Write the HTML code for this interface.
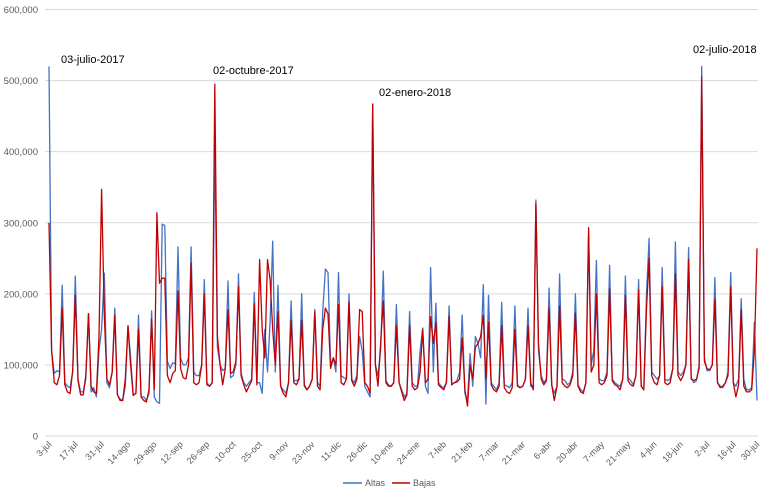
<!DOCTYPE html>
<html><head><meta charset="utf-8"><style>
body{margin:0;background:#fff;}
svg text{font-family:"Liberation Sans",sans-serif;}
</style></head><body>
<svg id="chart" width="768" height="495" viewBox="0 0 768 495" xmlns="http://www.w3.org/2000/svg">
<g id="grid"></g>
<g id="ylab"></g>
<g id="xlab"></g>
<g id="series"></g>
<g font-size="11" fill="#000">
<text x="61" y="63">03-julio-2017</text>
<text x="213" y="74">02-octubre-2017</text>
<text x="379" y="96">02-enero-2018</text>
<text x="693" y="53">02-julio-2018</text>
</g>
<g font-size="9" fill="#595959">
<line x1="343" y1="483" x2="362" y2="483" stroke="#4472C4" stroke-width="1.5"/>
<text x="365" y="486">Altas</text>
<line x1="392" y1="483" x2="410" y2="483" stroke="#C00000" stroke-width="1.5"/>
<text x="413" y="486">Bajas</text>
</g>
</svg>
<script>
const altas=[520,120,88,92,90,212,75,70,68,90,225,80,62,62,80,172,62,68,55,120,150,229,75,68,90,180,58,52,50,70,155,110,58,60,170,55,55,50,60,176,55,48,46,298,296,105,95,103,102,266,110,100,100,110,266,90,85,85,100,220,75,70,75,415,125,100,92,95,218,82,85,100,228,88,75,70,75,80,202,75,75,60,150,90,160,274,90,212,70,65,60,75,190,78,78,80,200,70,65,70,80,178,75,70,175,235,230,100,110,90,230,85,82,80,200,80,75,85,140,120,70,62,55,467,100,85,120,232,78,72,70,75,185,75,65,55,60,175,75,70,70,120,152,70,60,237,90,187,75,70,68,75,183,72,75,78,90,170,60,50,116,70,140,130,110,213,45,198,75,70,65,75,188,72,70,68,75,183,72,68,70,80,180,70,68,332,120,85,75,80,208,72,60,70,228,80,78,72,75,90,200,72,65,62,75,281,100,120,247,80,78,78,90,240,80,75,72,70,80,225,82,78,72,85,220,70,65,200,278,90,85,80,85,237,80,78,80,95,273,90,85,90,100,265,82,75,78,100,520,110,92,92,100,223,75,70,68,75,90,230,75,70,80,193,80,65,65,68,160,50];
const bajas=[300,120,75,72,85,180,72,62,60,92,198,78,58,58,85,172,70,62,60,140,347,170,80,72,90,170,58,50,50,80,155,100,57,60,150,55,50,48,65,164,65,314,215,222,222,85,75,88,92,204,95,82,80,100,243,75,72,75,100,200,72,70,75,495,140,100,72,95,178,88,90,105,210,85,72,62,70,78,186,72,248,150,110,248,220,150,100,175,70,60,55,75,163,75,72,80,163,72,65,70,80,175,70,65,150,180,172,95,110,100,185,75,72,80,188,78,70,80,178,175,75,70,60,467,100,70,130,190,75,70,70,75,155,75,62,50,58,155,70,65,68,90,150,75,80,168,130,160,72,68,65,75,168,72,75,76,80,138,65,42,100,80,125,130,140,170,80,160,72,65,62,70,155,68,62,60,68,150,70,68,70,80,155,75,65,327,130,80,72,78,180,72,50,70,183,75,70,68,72,85,173,70,62,60,75,293,90,100,200,75,72,75,85,207,78,72,70,65,80,198,78,72,70,85,205,70,65,180,250,85,75,72,85,210,75,72,75,95,228,85,78,85,100,248,80,78,80,95,505,105,95,93,100,192,75,68,70,75,85,210,75,55,72,178,70,62,62,65,120,264];
const yTicks=[0,100000,200000,300000,400000,500000,600000];
const xLabels=["3-jul","17-jul","31-jul","14-ago","29-ago","12-sep","26-sep","10-oct","25-oct","9-nov","23-nov","11-dic","26-dic","10-ene","24-ene","7-feb","21-feb","7-mar","21-mar","6-abr","20-abr","7-may","21-may","4-jun","18-jun","2-jul","16-jul","30-jul"];
const NS="http://www.w3.org/2000/svg";
const X0=49,X1=757,Y0=436,YT=9.5;
const n=altas.length;
function xs(i){return X0+i*(X1-X0)/(n-1);}
function ys(v){return Y0-v/600000*(Y0-YT);}
const grid=document.getElementById('grid'),ylab=document.getElementById('ylab'),xlab=document.getElementById('xlab'),ser=document.getElementById('series');
yTicks.forEach(t=>{
 const l=document.createElementNS(NS,'line');
 
 
 l.setAttribute('x1',45);l.setAttribute('x2',758);l.setAttribute('y1',ys(t));l.setAttribute('y2',ys(t));
 l.setAttribute('stroke','#d9d9d9');l.setAttribute('stroke-width','1');grid.appendChild(l);
 const tx=document.createElementNS(NS,'text');
 
 
 tx.setAttribute('x',38);tx.setAttribute('y',ys(t)+3.5);tx.setAttribute('text-anchor','end');
 tx.setAttribute('font-size','9.5');tx.setAttribute('fill','#595959');
 tx.textContent=t.toLocaleString('en-US');ylab.appendChild(tx);
});
xLabels.forEach((s,k)=>{
 const i=Math.min(k*10,n-1);const x=xs(i);
 const tx=document.createElementNS(NS,'text');
 
 
 tx.setAttribute('x',x+3);tx.setAttribute('y',445);tx.setAttribute('text-anchor','end');
 tx.setAttribute('font-size','9');tx.setAttribute('fill','#595959');
 tx.setAttribute('transform','rotate(-45 '+(x+3)+' 445)');
 tx.textContent=s;xlab.appendChild(tx);
});
function draw(arr,color,name){
 const p=document.createElementNS(NS,'polyline');
 
 
 p.setAttribute('points',arr.map((v,i)=>xs(i).toFixed(1)+','+ys(v*1000).toFixed(1)).join(' '));
 p.setAttribute('fill','none');p.setAttribute('stroke',color);p.setAttribute('stroke-width','1.3');p.setAttribute('stroke-linejoin','round');
 ser.appendChild(p);
}
draw(altas,'#4472C4','altas-line');
draw(bajas,'#C00000','bajas-line');
</script>
</body></html>
